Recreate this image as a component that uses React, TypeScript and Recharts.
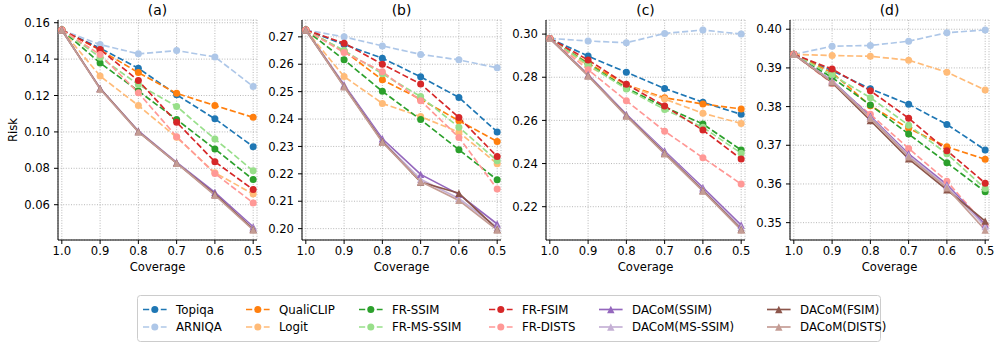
import React from 'react';
import { LineChart, Line, XAxis, YAxis, CartesianGrid } from 'recharts';

// ---------------- data ----------------
const coverage = [1.0, 0.9, 0.8, 0.7, 0.6, 0.5];
const xTicks = [1.0, 0.9, 0.8, 0.7, 0.6, 0.5];

const methods = [
  'Topiqa', 'ARNIQA', 'QualiCLIP', 'Logit', 'FR-SSIM', 'FR-MS-SSIM',
  'FR-FSIM', 'FR-DISTS', 'DACoM(SSIM)', 'DACoM(MS-SSIM)', 'DACoM(FSIM)', 'DACoM(DISTS)',
];
const methodColors = [
  '#1f77b4', '#aec7e8', '#ff7f0e', '#ffbb78', '#2ca02c', '#98df8a',
  '#d62728', '#ff9896', '#9467bd', '#c5b0d5', '#8c564b', '#c49c94',
];

const panelTitles = ['(a)', '(b)', '(c)', '(d)'];

const riskA: Record<string, number[]> = {
  'Topiqa': [0.156, 0.146, 0.135, 0.1204, 0.1072, 0.0919],
  'ARNIQA': [0.156, 0.148, 0.1429, 0.1447, 0.1412, 0.125],
  'QualiCLIP': [0.156, 0.145, 0.1326, 0.1212, 0.1145, 0.108],
  'Logit': [0.156, 0.1307, 0.1145, 0.097, 0.0775, 0.0659],
  'FR-SSIM': [0.156, 0.1379, 0.1225, 0.1068, 0.0906, 0.0738],
  'FR-MS-SSIM': [0.156, 0.141, 0.126, 0.114, 0.0961, 0.0786],
  'FR-FSIM': [0.156, 0.1453, 0.1282, 0.1053, 0.0836, 0.0683],
  'FR-DISTS': [0.156, 0.1425, 0.1215, 0.0974, 0.0771, 0.061],
  'DACoM(SSIM)': [0.156, 0.124, 0.1005, 0.0832, 0.0668, 0.0478],
  'DACoM(MS-SSIM)': [0.156, 0.1238, 0.1002, 0.083, 0.0655, 0.047],
  'DACoM(FSIM)': [0.156, 0.1238, 0.1002, 0.0829, 0.0658, 0.0465],
  'DACoM(DISTS)': [0.156, 0.1236, 0.1, 0.0828, 0.0652, 0.0461],
};
const riskB: Record<string, number[]> = {
  'Topiqa': [0.2725, 0.2672, 0.2622, 0.2554, 0.2479, 0.2353],
  'ARNIQA': [0.2725, 0.27, 0.2667, 0.2636, 0.2616, 0.2587],
  'QualiCLIP': [0.2725, 0.2648, 0.2543, 0.2472, 0.2394, 0.2318],
  'Logit': [0.2725, 0.2555, 0.2457, 0.2409, 0.2352, 0.2237],
  'FR-SSIM': [0.2725, 0.2616, 0.2501, 0.2398, 0.2288, 0.2178],
  'FR-MS-SSIM': [0.2725, 0.265, 0.2565, 0.2482, 0.237, 0.2248],
  'FR-FSIM': [0.2725, 0.2677, 0.26, 0.2528, 0.2406, 0.2263],
  'FR-DISTS': [0.2725, 0.2643, 0.2573, 0.2467, 0.2333, 0.2145],
  'DACoM(SSIM)': [0.2725, 0.2525, 0.2328, 0.2198, 0.2125, 0.2017],
  'DACoM(MS-SSIM)': [0.2725, 0.2522, 0.232, 0.218, 0.211, 0.2005],
  'DACoM(FSIM)': [0.2725, 0.252, 0.2318, 0.217, 0.2129, 0.1998],
  'DACoM(DISTS)': [0.2725, 0.2518, 0.2315, 0.2172, 0.2103, 0.1995],
};
const riskC: Record<string, number[]> = {
  'Topiqa': [0.298, 0.2898, 0.2823, 0.2748, 0.2684, 0.2628],
  'ARNIQA': [0.298, 0.2968, 0.296, 0.3003, 0.3019, 0.3],
  'QualiCLIP': [0.298, 0.2865, 0.2765, 0.2705, 0.2676, 0.2653],
  'Logit': [0.298, 0.285, 0.2762, 0.2699, 0.2633, 0.2586],
  'FR-SSIM': [0.298, 0.2862, 0.275, 0.2662, 0.2583, 0.2463],
  'FR-MS-SSIM': [0.298, 0.2858, 0.2745, 0.2651, 0.2568, 0.2448],
  'FR-FSIM': [0.298, 0.288, 0.2767, 0.2667, 0.2555, 0.2421],
  'FR-DISTS': [0.298, 0.2835, 0.2691, 0.255, 0.2427, 0.2305],
  'DACoM(SSIM)': [0.298, 0.2812, 0.2628, 0.2458, 0.2288, 0.2115],
  'DACoM(MS-SSIM)': [0.298, 0.281, 0.2625, 0.2452, 0.228, 0.2105],
  'DACoM(FSIM)': [0.298, 0.2808, 0.2622, 0.2448, 0.2275, 0.2095],
  'DACoM(DISTS)': [0.298, 0.2806, 0.262, 0.2445, 0.2272, 0.2092],
};
const riskD: Record<string, number[]> = {
  'Topiqa': [0.3935, 0.3893, 0.3846, 0.3806, 0.3754, 0.3688],
  'ARNIQA': [0.3935, 0.3956, 0.3958, 0.3969, 0.3991, 0.3998],
  'QualiCLIP': [0.3935, 0.3888, 0.3802, 0.3744, 0.3696, 0.3664],
  'Logit': [0.3935, 0.3932, 0.393, 0.392, 0.3889, 0.3843],
  'FR-SSIM': [0.3935, 0.3875, 0.3804, 0.3729, 0.3655, 0.358],
  'FR-MS-SSIM': [0.3935, 0.3882, 0.3823, 0.3752, 0.3678, 0.3588],
  'FR-FSIM': [0.3935, 0.3897, 0.3841, 0.377, 0.3686, 0.3602],
  'FR-DISTS': [0.3935, 0.386, 0.378, 0.3692, 0.3607, 0.3494],
  'DACoM(SSIM)': [0.3935, 0.3867, 0.3775, 0.3678, 0.3598, 0.3495],
  'DACoM(MS-SSIM)': [0.3935, 0.3866, 0.3772, 0.3674, 0.3594, 0.349],
  'DACoM(FSIM)': [0.3935, 0.3862, 0.3764, 0.3665, 0.3585, 0.3504],
  'DACoM(DISTS)': [0.3935, 0.3864, 0.377, 0.367, 0.359, 0.3481],
};

const yTicksA = [0.06, 0.08, 0.1, 0.12, 0.14, 0.16];
const yTicksB = [0.2, 0.21, 0.22, 0.23, 0.24, 0.25, 0.26, 0.27];
const yTicksC = [0.22, 0.24, 0.26, 0.28, 0.3];
const yTicksD = [0.35, 0.36, 0.37, 0.38, 0.39, 0.4];

// ---------------- layout ----------------
const FONT = '"DejaVu Sans", sans-serif';
const FS = 11.6;
const LEG_FS = 11.8;
const PLOT_TOP = 20;
const PLOT_BOTTOM = 240;
const PLOT_W = 199;
const PLOT_LEFTS = [58, 302, 546, 790];
const YW = 58;
const LW = 1.67;
const DASH = '6.2 2.7';
const MR = 3.5;

const isDacom = (m: string) => m.startsWith('DACoM');

function buildRows(risk: Record<string, number[]>) {
  return coverage.map((c, i) => {
    const r: any = { cov: c };
    methods.forEach((m) => { r[m] = risk[m][i]; });
    return r;
  });
}

function domainOf(risk: Record<string, number[]>): [number, number] {
  const all = methods.flatMap((m) => risk[m]);
  const mn = Math.min(...all);
  const mx = Math.max(...all);
  const pad = (mx - mn) * 0.05;
  return [mn - pad, mx + pad];
}

function makeDot(color: string, tri: boolean) {
  return (props: any) => {
    const { cx, cy, index } = props;
    if (cx == null || cy == null) return <g key={`e${index}`} />;
    if (tri) {
      const s = 3.7;
      return (
        <polygon
          key={`t${index}`}
          points={`${cx},${cy - s} ${cx - s},${cy + s} ${cx + s},${cy + s}`}
          fill={color}
          stroke="none"
        />
      );
    }
    return <circle key={`c${index}`} cx={cx} cy={cy} r={MR} fill={color} stroke="none" />;
  };
}

function Panel({ idx, risk, yTicks }: { idx: number; risk: Record<string, number[]>; yTicks: number[] }) {
  const left = PLOT_LEFTS[idx];
  const rows = buildRows(risk);
  const dom = domainOf(risk);
  const chartH = 290;
  return (
    <div style={{ position: 'absolute', left: left - YW, top: 0 }}>
      <LineChart
        width={YW + PLOT_W + 6}
        height={chartH}
        data={rows}
        margin={{ top: PLOT_TOP, right: 6, bottom: 0, left: 0 }}
      >
        <CartesianGrid stroke="#b0b0b0" strokeDasharray="1 1.6" strokeWidth={0.9} />
        <XAxis
          dataKey="cov"
          type="number"
          domain={[0.49, 1.01]}
          reversed
          ticks={xTicks}
          interval={0}
          allowDataOverflow
          tickFormatter={(v: number) => v.toFixed(1)}
          height={chartH - PLOT_BOTTOM}
          tickSize={4}
          tickMargin={3}
          stroke="#000"
          tick={{ fill: '#000', fontSize: FS, fontFamily: FONT }}
        />
        <XAxis
          xAxisId="top"
          orientation="top"
          dataKey="cov"
          type="number"
          domain={[0.49, 1.01]}
          reversed
          allowDataOverflow
          height={0}
          tick={false}
          tickLine={false}
          stroke="#000"
        />
        <YAxis
          type="number"
          domain={dom}
          ticks={yTicks}
          interval={0}
          allowDataOverflow
          width={YW}
          tickFormatter={(v: number) => v.toFixed(2)}
          tickSize={4}
          tickMargin={4}
          stroke="#000"
          tick={{ fill: '#000', fontSize: FS, fontFamily: FONT }}
        />
        <YAxis
          yAxisId="right"
          orientation="right"
          type="number"
          domain={dom}
          allowDataOverflow
          width={0}
          tick={false}
          tickLine={false}
          stroke="#000"
        />
        {methods.map((m, i) => (
          <Line
            key={m}
            dataKey={m}
            type="linear"
            stroke={methodColors[i]}
            strokeWidth={LW}
            strokeDasharray={isDacom(m) ? undefined : DASH}
            dot={makeDot(methodColors[i], isDacom(m))}
            activeDot={false}
            isAnimationActive={false}
          />
        ))}
      </LineChart>
    </div>
  );
}

// legend layout (column text starts)
const LEG_LEFT = 137;
const LEG_TOP = 295;
const LEG_W = 743;
const LEG_H = 46;
const LEG_TEXT_X = [176, 279, 392, 522, 632, 800];
const LEG_ROWS = [309.5, 327];
const HANDLE = 23.6;
const TEXTPAD = 9.4;

function Overlay() {
  return (
    <svg width={995} height={343} style={{ position: 'absolute', left: 0, top: 0, pointerEvents: 'none' }}>
      {panelTitles.map((t, i) => (
        <text
          key={t}
          x={PLOT_LEFTS[i] + PLOT_W / 2}
          y={PLOT_TOP - 5}
          textAnchor="middle"
          fontFamily={FONT}
          fontSize={13.9}
          fill="#000"
        >
          {t}
        </text>
      ))}
      {panelTitles.map((t, i) => (
        <text
          key={`cov${t}`}
          x={PLOT_LEFTS[i] + PLOT_W / 2}
          y={271}
          textAnchor="middle"
          fontFamily={FONT}
          fontSize={FS}
          fill="#000"
        >
          Coverage
        </text>
      ))}
      <text
        x={0}
        y={0}
        transform={`translate(16.5, ${(PLOT_TOP + PLOT_BOTTOM) / 2}) rotate(-90)`}
        textAnchor="middle"
        fontFamily={FONT}
        fontSize={FS}
        fill="#000"
      >
        Risk
      </text>
      <rect
        x={LEG_LEFT + 0.5}
        y={LEG_TOP + 0.5}
        width={LEG_W}
        height={LEG_H}
        rx={3}
        fill="#fff"
        fillOpacity={0.8}
        stroke="#cccccc"
        strokeWidth={1}
      />
      {methods.map((m, i) => {
        const col = Math.floor(i / 2);
        const row = i % 2;
        const tx = LEG_TEXT_X[col];
        const hx = tx - TEXTPAD - HANDLE;
        const y = LEG_ROWS[row];
        const color = methodColors[i];
        const cx = hx + HANDLE / 2;
        const s = 3.7;
        return (
          <g key={m}>
            <line
              x1={hx}
              x2={hx + HANDLE}
              y1={y}
              y2={y}
              stroke={color}
              strokeWidth={LW}
              strokeDasharray={isDacom(m) ? undefined : DASH}
            />
            {isDacom(m) ? (
              <polygon points={`${cx},${y - s} ${cx - s},${y + s} ${cx + s},${y + s}`} fill={color} />
            ) : (
              <circle cx={cx} cy={y} r={MR} fill={color} />
            )}
            <text
              x={tx}
              y={y}
              dy="0.36em"
              fontFamily={FONT}
              fontSize={LEG_FS}
              fill="#000"
            >
              {m}
            </text>
          </g>
        );
      })}
    </svg>
  );
}

export default function App() {
  return (
    <div style={{ position: 'absolute', left: 0, top: 0, width: 995, height: 343, background: '#fff' }}>
      <Panel idx={0} risk={riskA} yTicks={yTicksA} />
      <Panel idx={1} risk={riskB} yTicks={yTicksB} />
      <Panel idx={2} risk={riskC} yTicks={yTicksC} />
      <Panel idx={3} risk={riskD} yTicks={yTicksD} />
      <Overlay />
    </div>
  );
}
